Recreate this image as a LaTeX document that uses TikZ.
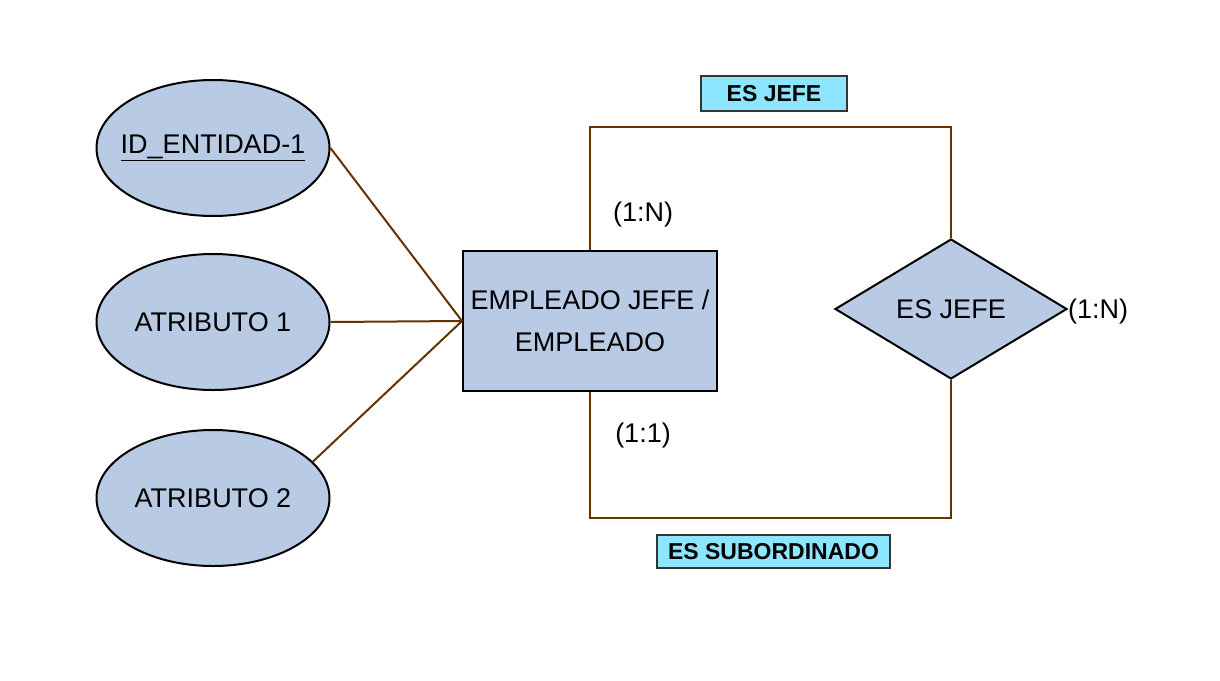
\documentclass[tikz,border=0pt]{standalone}
\usepackage{fontspec}
\setmainfont{Liberation Sans}
\usetikzlibrary{shapes.geometric}
\definecolor{shapefill}{RGB}{184,202,228}
\definecolor{labfill}{RGB}{140,230,255}
\definecolor{linkc}{RGB}{102,51,0}
\begin{document}
\begin{tikzpicture}[x=1pt,y=-1pt,
  attr/.style={ellipse,draw=black,line width=2pt,fill=shapefill,minimum width=233pt,minimum height=136pt,inner sep=0pt,font=\fontsize{27}{32}\selectfont},
  entity/.style={rectangle,draw=black,line width=2pt,fill=shapefill,minimum width=254pt,minimum height=140pt,inner sep=0pt,align=center,font=\fontsize{27}{42}\selectfont},
  rel/.style={diamond,draw=black,line width=2pt,fill=shapefill,minimum width=232pt,minimum height=140pt,inner sep=0pt,aspect=1.66,font=\fontsize{27}{32}\selectfont},
  lab/.style={rectangle,draw=black!80,line width=1.6pt,fill=labfill,inner sep=0pt,font=\fontsize{23}{26}\selectfont\bfseries},
  card/.style={inner sep=0pt,font=\fontsize{27}{32}\selectfont},
  link/.style={draw=linkc,line width=2pt}]
\useasboundingbox (0,0) rectangle (1220,680);
\fill[white] (0,0) rectangle (1220,680);
\node[attr] (a1) at (213,148) {\makebox[0pt]{\underline{ID\_ENTIDAD-1}}};
\node[attr] (a2) at (213,322) {\makebox[0pt]{ATRIBUTO 1}};
\node[attr] (a3) at (213,498) {\makebox[0pt]{ATRIBUTO 2}};
\node[entity] (e) at (590,321) {EMPLEADO JEFE /\\EMPLEADO};
\node[rel] (r) at (951,309) {ES JEFE};
\coordinate (ttl) at (590,127);
\coordinate (ttr) at (951,127);
\coordinate (bbl) at (590,518);
\coordinate (bbr) at (951,518);
\draw[link] (a1.east) -- (e.west);
\draw[link] (a2.east) -- (e.west);
\draw[link] (a3.20) -- (e.west);
\draw[link] (e.north) -- (ttl) -- (ttr) -- (r.north);
\draw[link] (e.south) -- (bbl) -- (bbr) -- (r.south);
\node[lab,minimum width=146pt,minimum height=35pt] (l1) at (774,93.5) {ES JEFE};
\node[lab,minimum width=233pt,minimum height=33pt] (l2) at (773.5,551.5) {ES SUBORDINADO};
\node[card] (c1) at (643,215) {(1:N)};
\node[card] (c2) at (643,436) {(1:1)};
\node[card,anchor=west] (c3) at ([yshift=-3pt]r.east) {(1:N)};
\end{tikzpicture}
\end{document}
